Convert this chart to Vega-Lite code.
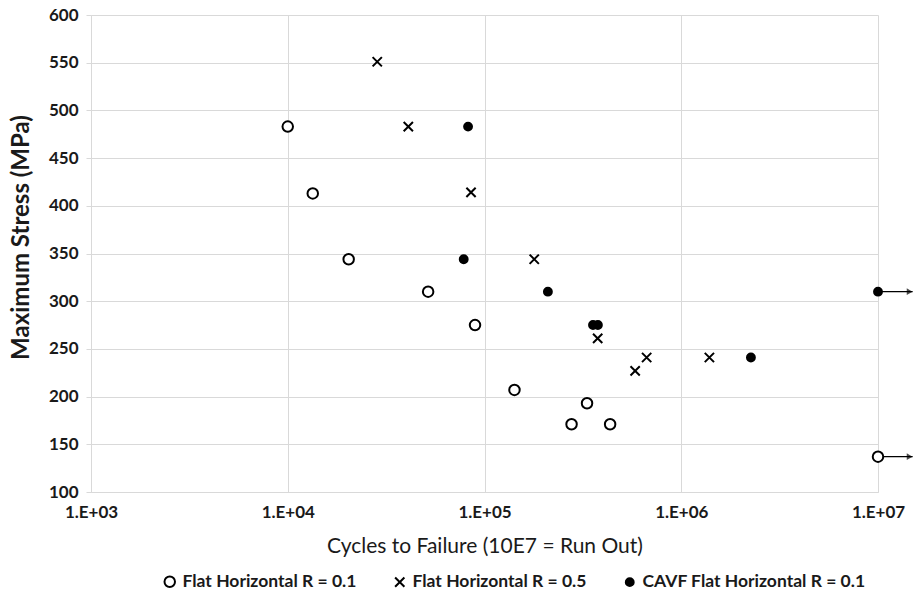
{
  "$schema": "https://vega.github.io/schema/vega-lite/v6.json",
  "width": 787,
  "height": 477,
  "autosize": {"type": "none"},
  "padding": {"left": 91, "top": 15, "right": 36, "bottom": 102},
  "background": "white",
  "config": {
    "view": {"stroke": null},
    "font": "Lato",
    "axis": {"gridColor": "#d9d9d9", "gridWidth": 1, "domainColor": "#d9d9d9", "tickColor": "#d9d9d9", "labelFont": "Lato", "labelFontWeight": "bold", "labelFontSize": 17, "labelColor": "#1a1a1a", "titleColor": "#1a1a1a", "titleFont": "Lato"}
  },
  "datasets": {
    "pts": [
      {"cycles": 10000, "stress": 483, "series": "Flat Horizontal R = 0.1"},
      {"cycles": 13400, "stress": 413, "series": "Flat Horizontal R = 0.1"},
      {"cycles": 20400, "stress": 344, "series": "Flat Horizontal R = 0.1"},
      {"cycles": 51700, "stress": 310, "series": "Flat Horizontal R = 0.1"},
      {"cycles": 89500, "stress": 275, "series": "Flat Horizontal R = 0.1"},
      {"cycles": 142000, "stress": 207, "series": "Flat Horizontal R = 0.1"},
      {"cycles": 332000, "stress": 193, "series": "Flat Horizontal R = 0.1"},
      {"cycles": 277000, "stress": 171, "series": "Flat Horizontal R = 0.1"},
      {"cycles": 435000, "stress": 171, "series": "Flat Horizontal R = 0.1"},
      {"cycles": 10000000, "stress": 137, "series": "Flat Horizontal R = 0.1"},
      {"cycles": 28500, "stress": 551, "series": "Flat Horizontal R = 0.5"},
      {"cycles": 41000, "stress": 483, "series": "Flat Horizontal R = 0.5"},
      {"cycles": 85400, "stress": 414, "series": "Flat Horizontal R = 0.5"},
      {"cycles": 179000, "stress": 344, "series": "Flat Horizontal R = 0.5"},
      {"cycles": 376000, "stress": 261, "series": "Flat Horizontal R = 0.5"},
      {"cycles": 667000, "stress": 241, "series": "Flat Horizontal R = 0.5"},
      {"cycles": 583000, "stress": 227, "series": "Flat Horizontal R = 0.5"},
      {"cycles": 1390000, "stress": 241, "series": "Flat Horizontal R = 0.5"},
      {"cycles": 82500, "stress": 483, "series": "CAVF Flat Horizontal R = 0.1"},
      {"cycles": 78400, "stress": 344, "series": "CAVF Flat Horizontal R = 0.1"},
      {"cycles": 210000, "stress": 310, "series": "CAVF Flat Horizontal R = 0.1"},
      {"cycles": 356000, "stress": 275, "series": "CAVF Flat Horizontal R = 0.1"},
      {"cycles": 377000, "stress": 275, "series": "CAVF Flat Horizontal R = 0.1"},
      {"cycles": 2260000, "stress": 241, "series": "CAVF Flat Horizontal R = 0.1"},
      {"cycles": 10000000, "stress": 310, "series": "CAVF Flat Horizontal R = 0.1"}
    ],
    "arrows": [
      {"stress": 310, "start": 10000000, "end": 15000000},
      {"stress": 137, "start": 10000000, "end": 15000000}
    ]
  },
  "layer": [
    {
      "data": {"name": "arrows"},
      "mark": {"type": "rule", "color": "black", "strokeWidth": 1.3, "clip": false},
      "encoding": {
        "x": {"field": "start", "type": "quantitative", "scale": {"type": "log", "domain": [1000, 10000000]},
              "axis": {"values": [1000, 10000, 100000, 1000000, 10000000], "labelExpr": "'1.E+' + format(log(datum.value)/LN10, '02d')", "ticks": false, "labelPadding": 12, "title": "Cycles to Failure (10E7 = Run Out)", "titleFontSize": 21, "titleFontWeight": "normal", "titlePadding": 15, "labelFlush": false}},
        "x2": {"field": "end"},
        "y": {"field": "stress", "type": "quantitative", "scale": {"domain": [100, 600]},
              "axis": {"values": [100, 150, 200, 250, 300, 350, 400, 450, 500, 550, 600], "tickSize": 5, "labelPadding": 8, "title": "Maximum Stress (MPa)", "titleFontSize": 24, "titleFontWeight": "bold", "titleX": -70, "titleY": 222, "titleBaseline": "middle", "titleAngle": -90}}
      }
    },
    {
      "data": {"name": "arrows"},
      "mark": {"type": "point", "shape": "triangle-right", "filled": true, "color": "black", "size": 45, "xOffset": -3, "clip": false},
      "encoding": {
        "x": {"field": "end", "type": "quantitative"},
        "y": {"field": "stress", "type": "quantitative"}
      }
    },
    {
      "data": {"name": "pts"},
      "mark": {"type": "point", "stroke": "black", "strokeWidth": 2, "opacity": 1, "filled": false},
      "encoding": {
        "x": {"field": "cycles", "type": "quantitative"},
        "y": {"field": "stress", "type": "quantitative"},
        "shape": {"field": "series", "type": "nominal", "title": null,
                  "scale": {"domain": ["Flat Horizontal R = 0.1", "Flat Horizontal R = 0.5", "CAVF Flat Horizontal R = 0.1"], "range": ["circle", "M-1,-1L1,1M-1,1L1,-1", "circle"]},
                  "legend": {"orient": "none", "legendX": 70, "legendY": 558, "direction": "horizontal", "columnPadding": 34, "labelFont": "Lato", "labelFontWeight": "bold", "labelFontSize": 17.5, "labelLimit": 0, "labelColor": "#1a1a1a", "labelOffset": 4, "symbolStrokeColor": "black", "symbolStrokeWidth": 2}},
        "fill": {"field": "series", "type": "nominal", "title": null,
                 "scale": {"domain": ["Flat Horizontal R = 0.1", "Flat Horizontal R = 0.5", "CAVF Flat Horizontal R = 0.1"], "range": ["white", "white", "black"]}},
        "size": {"field": "series", "type": "nominal", "title": null,
                 "scale": {"domain": ["Flat Horizontal R = 0.1", "Flat Horizontal R = 0.5", "CAVF Flat Horizontal R = 0.1"], "range": [110, 62, 130]}}
      }
    }
  ]
}
